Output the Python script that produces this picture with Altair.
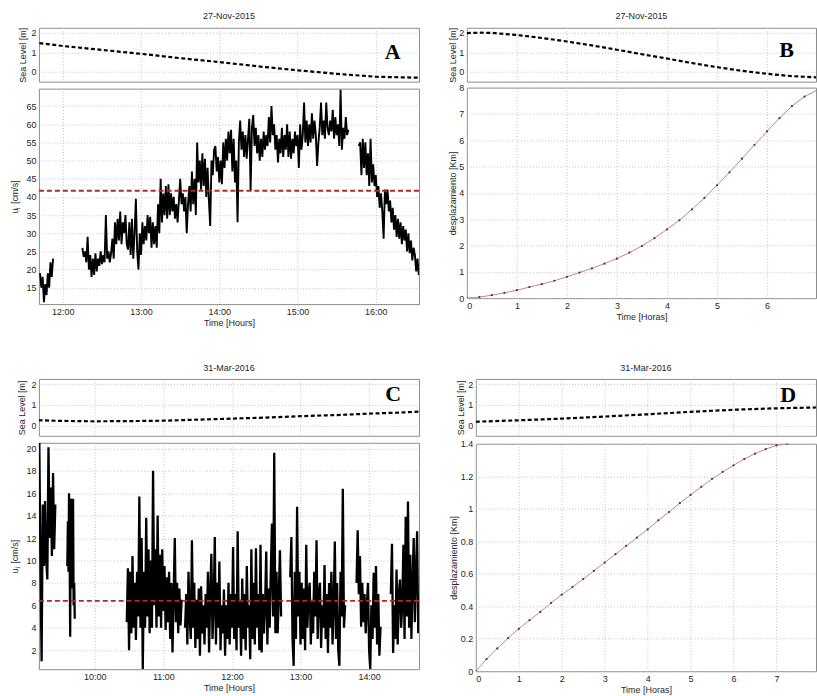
import altair as alt
import pandas as pd

# ---------------- data ----------------
# Panel A : u_j [cm/s], minutes after 12:00, one sample per minute per segment
A_starts = [-17.5, 15, 227]
A_steps = [1, 1, 1]
A_seg1 = [19, 15, 18, 11, 16, 13, 19, 15, 22, 18, 23]
A_seg2 = [26, 23.5, 25, 22, 29, 20, 24, 18, 23, 18.5,
          24.5, 19.5, 23, 21, 25, 21.5, 24, 22, 35, 23,
          25, 22, 24.5, 28.5, 23, 33, 27, 34, 28, 36,
          27, 33, 30, 35, 27, 25.5, 33, 24, 34, 23,
          30, 39.5, 25, 20, 30, 24, 33, 27, 32, 28,
          35, 30, 34.5, 26, 33, 27, 32, 26, 38, 30,
          45, 33, 41, 35, 43, 34, 43.5, 35, 41, 36,
          40, 34, 38, 33, 39, 45, 38, 41, 36, 40,
          30, 38, 43, 36, 47, 38, 45, 35, 55, 44,
          50, 42, 52, 43, 50.5, 40, 48, 39, 32, 50,
          46, 53, 54, 47, 51, 44, 50, 43.5, 55, 48,
          56, 50, 58, 52,
          58.5, 47, 56, 44, 50, 33, 55, 61, 53, 58,
          51, 57, 50.5, 56, 61.5, 41.6, 59, 62.5, 54, 59,
          52, 57, 50, 56, 51, 58, 53, 57, 54, 62,
          55, 65, 57, 60, 53, 57, 49.5, 56, 52, 59,
          51, 57, 53, 60, 51, 58, 50.5, 56, 52, 58,
          54, 57, 48, 60, 53, 57, 66, 55, 61, 54,
          60, 55, 63, 56, 61, 57, 48.5, 55, 59, 66,
          57, 61, 56, 66, 59, 57, 61, 58, 64, 56,
          62, 57, 60, 54, 69.5, 53, 59, 56, 62, 57,
          58.5]
A_seg3 = [54, 55, 46, 56, 48, 55, 46, 52, 43, 56,
          44, 49, 43, 46, 40, 43, 37, 41, 36, 28.5,
          42, 38, 42, 36, 39, 33, 37, 31, 35, 29,
          34, 28.5, 33, 27, 32, 28, 31, 25, 30, 24.5,
          28, 22.5, 26, 24, 19.5, 23, 18.5]
A_mean = 41.7
A_sea_hours = [11.7, 12, 12.5, 13, 13.5, 14, 14.5, 15, 15.5, 16, 16.55]
A_sea_level = [1.47, 1.32, 1.12, 0.92, 0.7, 0.5, 0.28, 0.08, -0.1, -0.25, -0.3]

# Panel B : displacement [Km] vs hours
B_hours = [0, 0.25, 0.5, 0.75, 1, 1.25, 1.5, 1.75, 2, 2.25, 2.5, 2.75, 3, 3.25,
           3.5, 3.75, 4, 4.25, 4.5, 4.75, 5, 5.25, 5.5, 5.75, 6, 6.25, 6.5, 6.75, 7]
B_km = [0, 0.04, 0.11, 0.2, 0.3, 0.42, 0.53, 0.66, 0.81, 0.97, 1.13, 1.31, 1.5,
        1.73, 1.98, 2.28, 2.61, 2.96, 3.37, 3.81, 4.29, 4.78, 5.3, 5.82, 6.34,
        6.84, 7.3, 7.66, 7.9]
B_sea_hours = [0, 0.25, 0.5, 1, 1.5, 2, 2.5, 3, 3.5, 4, 4.5, 5, 5.5, 6, 6.5, 7]
B_sea_level = [1.98, 2.0, 1.99, 1.88, 1.73, 1.55, 1.35, 1.13, 0.9, 0.68, 0.45,
               0.24, 0.05, -0.1, -0.22, -0.28]

# Panel C : u_j [cm/s], minutes after 10:00
C_starts = [-48.5, -24, 28, 79, 171, 229, 259]
C_steps = [1, 0.5, 1, 1, 1, 1, 1]
C_seg1 = [20.5, 9.5, 1, 15, 9.5, 15.3, 10, 8.3, 20.1, 12, 16.5, 10.4, 17.8, 11, 15]
C_seg2 = [9.5, 13.5, 9, 16, 11, 3.2, 15.5, 8.5, 12, 7.5, 15.5, 6, 8, 4.8]
C_seg3 = [4.5, 9.3, 2, 9, 3.5, 10.4, 4, 8, 2.9, 9, 5, 15.7, 4, 12, 0.3, 9, 4,
          13.8, 5, 11, 3.5, 10, 4, 18, 6, 11, 4, 14, 5, 10.5, 4, 11, 5.5, 9.5,
          3.8, 8.5, 4.5, 9, 3, 8, 1.8, 7, 12, 4.5, 8, 3.5, 7.5, 4.2, 6.5]
C_seg4 = [4, 7, 2.5, 9, 5, 3, 11.8, 4, 8, 2.2,
          6.5, 3, 7.5, 1.5, 7.7, 3.5, 6, 2.5, 7, 4,
          9, 1.8, 7, 10.6, 3, 6, 12.1, 2.5, 8, 4,
          9.9, 2, 6, 3.5, 7.4, 1.5, 6, 3, 8, 2.5,
          7, 4, 11.2, 3, 7, 2, 12.6, 4, 6.5, 1.5,
          8.4, 3, 7, 2, 9.5, 4, 6, 1.2, 11, 3,
          8, 2.5, 11.1, 4, 7, 2, 11.4, 1.8, 7, 3.5,
          6, 10.8, 2.5, 7.5, 4, 9, 13.3, 5, 19.6, 3.5,
          9, 3.5, 7, 10.9, 5]
C_seg5 = [8.5, 12.1, 3, 0.6, 9, 3, 14.8, 5, 9, 2.5,
          8, 3, 7.5, 2, 11.4, 4, 7, 8, 2.5, 6.5,
          3.5, 9, 5, 11.8, 3, 7, 8, 2.2, 6, 4,
          9.6, 3, 7, 1.75, 8, 4, 9, 2.5, 6, 11.7,
          3, 8, 2, 0.6, 9, 5, 16.4, 4, 6]
C_seg6 = [8, 12.7, 7, 10.4, 4.1, 8, 4.5, 7, 3.5, 6, 8, 2, 0.3, 6, 3, 8.9, 4,
          9.5, 2.5, 7, 1.5, 4.1]
C_seg7 = [7, 11.5, 1.75, 6, 3, 9.2, 2.5, 7, 8.3, 4, 6, 11.4, 3, 13.9, 5, 15.25,
          4, 10.5, 3, 8, 12, 4.5, 9, 12.6, 3.5, 7]
C_mean = 6.4
C_sea_hours = [9.18, 9.5, 10, 10.5, 11, 11.5, 12, 12.5, 13, 13.5, 14, 14.5, 14.75]
C_sea_level = [0.25, 0.22, 0.2, 0.21, 0.23, 0.28, 0.33, 0.38, 0.45, 0.5, 0.57, 0.63, 0.67]

# Panel D
D_hours = [0, 0.25, 0.5, 0.75, 1, 1.25, 1.5, 1.75, 2, 2.25, 2.5, 2.75, 3, 3.25,
           3.5, 3.75, 4, 4.25, 4.5, 4.75, 5, 5.25, 5.5, 5.75, 6, 6.25, 6.5, 6.75,
           7, 7.25]
D_km = [0, 0.075, 0.14, 0.204, 0.261, 0.314, 0.365, 0.42, 0.471, 0.518, 0.567,
        0.618, 0.669, 0.72, 0.771, 0.822, 0.873, 0.929, 0.98, 1.035, 1.086,
        1.135, 1.184, 1.227, 1.267, 1.306, 1.339, 1.367, 1.39, 1.40]
D_sea_hours = [0, 1, 2, 3, 4, 5, 6, 7, 8]
D_sea_level = [0.18, 0.25, 0.33, 0.43, 0.54, 0.66, 0.76, 0.83, 0.87]

# ---------------- helpers ----------------
FONT = "Liberation Sans"
TXT = "#262626"
GRID = "#c2c2c2"


def series_df(starts, steps, segs, base_hour):
    rows = []
    for k, (s, st, vals) in enumerate(zip(starts, steps, segs)):
        for i, v in enumerate(vals):
            rows.append({"h": base_hour + (s + i * st) / 60.0, "v": v, "seg": k})
    return pd.DataFrame(rows)


def sea_panel(hours, level, xdom, xticks, w, h, title, letter, lx, ly, tx):
    df = pd.DataFrame({"h": hours, "m": level})
    xs = alt.Scale(domain=xdom, nice=False, zero=False)
    ys = alt.Scale(domain=[-0.5, 2.25], nice=False, zero=False)
    xax = alt.Axis(values=xticks, labels=False, ticks=False, domain=False,
                   grid=True, title=None)
    yax = alt.Axis(values=[0, 1, 2], title="Sea Level [m]", titleX=tx,
                   titleY=h / 2, titleAngle=-90, titleAlign="center",
                   titleBaseline="middle", grid=True)
    line = alt.Chart(df).mark_line(color="black", strokeDash=[4, 2.5],
                                   strokeWidth=2.2, clip=True).encode(
        x=alt.X("h:Q", scale=xs, axis=xax),
        y=alt.Y("m:Q", scale=ys, axis=yax))
    lab = alt.Chart(pd.DataFrame({"h": [lx], "m": [ly], "t": [letter]})).mark_text(
        font="Liberation Serif", fontWeight="bold", fontSize=22, color="black",
        baseline="middle", align="center").encode(
        x=alt.X("h:Q", scale=xs, axis=xax),
        y=alt.Y("m:Q", scale=ys, axis=yax),
        text="t:N")
    return alt.layer(line, lab).properties(
        width=w, height=h,
        title=alt.TitleParams(title, font=FONT, fontSize=9, fontWeight="normal",
                              color=TXT, offset=6, anchor="middle"))


def ts_panel(df, mean, xdom, xticks, ydom, yticks, w, h, tx, sw):
    xs = alt.Scale(domain=xdom, nice=False, zero=False)
    ys = alt.Scale(domain=ydom, nice=False, zero=False)
    xax = alt.Axis(values=xticks, labelExpr="datum.value + ':00'",
                   title="Time [Hours]", labelPadding=3, titlePadding=2, grid=True)
    yax = alt.Axis(values=yticks, title="u\u2c7c [cm/s]", titleX=tx, titleY=h / 2,
                   titleAngle=-90, titleAlign="center", titleBaseline="middle",
                   grid=True)
    line = alt.Chart(df).mark_line(color="black", strokeWidth=sw, clip=True,
                                   strokeJoin="miter").encode(
        x=alt.X("h:Q", scale=xs, axis=xax),
        y=alt.Y("v:Q", scale=ys, axis=yax),
        detail="seg:N")
    rule = alt.Chart(pd.DataFrame({"v": [mean]})).mark_rule(
        color="#b3272a", strokeDash=[5, 3], strokeWidth=1.8).encode(
        y=alt.Y("v:Q", scale=ys, axis=yax))
    return alt.layer(line, rule).properties(width=w, height=h)


def disp_panel(hours, km, xdom, xticks, ydom, yticks, w, h, tx):
    df = pd.DataFrame({"h": hours, "k": km})
    xs = alt.Scale(domain=xdom, nice=False, zero=False)
    ys = alt.Scale(domain=ydom, nice=False, zero=False)
    xax = alt.Axis(values=xticks, format="d", title="Time [Horas]",
                   labelPadding=3, titlePadding=2, grid=True)
    yax = alt.Axis(values=yticks, format="~g", title="desplazamiento [Km]",
                   titleX=tx, titleY=h / 2, titleAngle=-90, titleAlign="center",
                   titleBaseline="middle", grid=True)
    line = alt.Chart(df).mark_line(color="#c98585", strokeWidth=1, clip=True).encode(
        x=alt.X("h:Q", scale=xs, axis=xax), y=alt.Y("k:Q", scale=ys, axis=yax))
    pts = alt.Chart(df).mark_point(filled=True, size=5, color="#5a2f2f", opacity=1,
                                   clip=True).encode(
        x=alt.X("h:Q", scale=xs, axis=xax), y=alt.Y("k:Q", scale=ys, axis=yax))
    return alt.layer(line, pts).properties(width=w, height=h)


# ---------------- panels ----------------
A_dom = [11.694, 16.552]
C_dom = [9.1855, 14.727]
A_df = series_df(A_starts, A_steps, [A_seg1, A_seg2, A_seg3], 12.0)
C_df = series_df(C_starts, C_steps,
                 [C_seg1, C_seg2, C_seg3, C_seg4, C_seg5, C_seg6, C_seg7], 10.0)

A_sea = sea_panel(A_sea_hours, A_sea_level, A_dom, [12, 13, 14, 15, 16], 381, 54,
                  "27-Nov-2015", "A", 16.216, 1.02, -16)
A_main = ts_panel(A_df, A_mean, A_dom, [12, 13, 14, 15, 16], [10.5, 69.8],
                  list(range(15, 70, 5)), 381, 216, -24, 1.9)
B_sea = sea_panel(B_sea_hours, B_sea_level, [0, 6.98], [0, 1, 2, 3, 4, 5, 6, 7],
                  350, 54, "27-Nov-2015", "B", 6.39, 1.14, -14)
B_main = disp_panel(B_hours, B_km, [0, 6.98], [0, 1, 2, 3, 4, 5, 6], [0, 8],
                    list(range(0, 9)), 350, 211, -14)
C_sea = sea_panel(C_sea_hours, C_sea_level, C_dom, [10, 11, 12, 13, 14], 381, 57,
                  "31-Mar-2016", "C", 14.349, 1.5, -17)
C_main = ts_panel(C_df, C_mean, C_dom, [10, 11, 12, 13, 14], [0.3, 20.5],
                  list(range(2, 21, 2)), 381, 227, -24, 2.3)
D_sea = sea_panel(D_sea_hours, D_sea_level, [0, 7.92], [0, 1, 2, 3, 4, 5, 6, 7],
                  341, 57, "31-Mar-2016", "D", 7.27, 1.45, -15)
D_main = disp_panel(D_hours, D_km, [0, 7.92], [0, 1, 2, 3, 4, 5, 6, 7], [0, 1.4],
                    [0, 0.2, 0.4, 0.6, 0.8, 1.0, 1.2, 1.4], 341, 228, -22)

A = alt.vconcat(A_sea, A_main, spacing=7, bounds="flush")
B = alt.vconcat(B_sea, B_main, spacing=6, bounds="flush")
C = alt.vconcat(C_sea, C_main, spacing=7, bounds="flush")
D = alt.vconcat(D_sea, D_main, spacing=8, bounds="flush")

row1 = alt.hconcat(A, B, spacing=27)
row2 = alt.hconcat(C, D, spacing=28)

chart = alt.vconcat(row1, row2, spacing=35).properties(
    padding={"left": 10, "top": 10, "right": 0, "bottom": 0}
).configure_axis(
    labelFont=FONT, labelFontSize=9, labelColor=TXT, labelPadding=3,
    titleFont=FONT, titleFontSize=9, titleFontWeight="normal", titleColor=TXT,
    gridColor=GRID, gridDash=[1, 2], gridWidth=1, domain=False, ticks=False
).configure_view(stroke="#8c8c8c", strokeWidth=1)

chart.save("out.html", embed_options={"renderer": "svg", "actions": False})
